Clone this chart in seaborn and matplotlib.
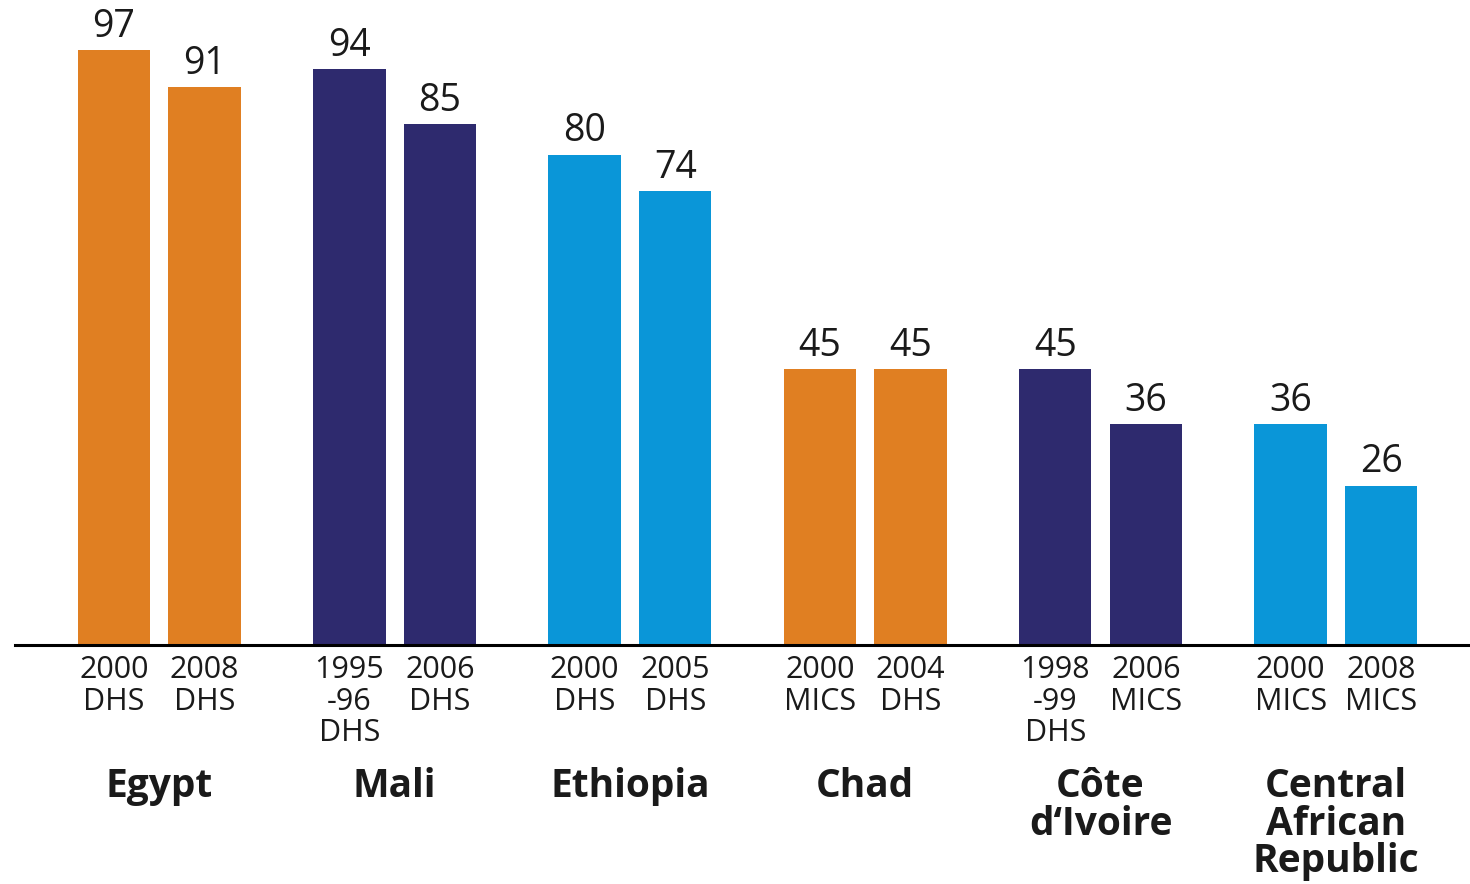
import numpy as np
import pandas as pd
import matplotlib.pyplot as plt
import seaborn as sns

# data
countries = ["Egypt", "Mali", "Ethiopia", "Chad", "Côte\nd‘Ivoire", "Central\nAfrican\nRepublic"]
first_values = [97, 94, 80, 45, 45, 36]
second_values = [91, 85, 74, 45, 36, 26]
first_surveys = ["2000\nDHS", "1995\n-96\nDHS", "2000\nDHS", "2000\nMICS", "1998\n-99\nDHS", "2000\nMICS"]
second_surveys = ["2008\nDHS", "2006\nDHS", "2005\nDHS", "2004\nDHS", "2006\nMICS", "2008\nMICS"]
country_colors = ["#E07F22", "#2E2A6E", "#0A96D8", "#E07F22", "#2E2A6E", "#0A96D8"]

df = pd.DataFrame({
    "country": countries * 2,
    "round": ["first"] * 6 + ["second"] * 6,
    "value": first_values + second_values,
})

sns.set_style("white")
plt.rcParams['font.family'] = ['Open Sans', 'DejaVu Sans']

fig = plt.figure(figsize=(14.7, 8.84), dpi=100)
ax = fig.add_axes([15 / 1470, 1 - 645 / 884, 1 - 15 / 1470, (645 - 32) / 884])

sns.barplot(data=df, x="country", y="value", hue="round", order=countries,
            width=0.77, gap=0.2, saturation=1, legend=False, ax=ax)

# colour bars by country
for p in ax.patches:
    cx = p.get_x() + p.get_width() / 2
    p.set_facecolor(country_colors[int(round(cx))])
    p.set_edgecolor("none")

for c in ax.containers:
    ax.bar_label(c, fontsize=27, padding=3, color="#1a1a1a")

ax.set_ylim(0, 100)
ax.set_xlim(-0.613, 5.57)
ax.set_yticks([])
ax.set_xlabel("")
ax.set_ylabel("")

# survey labels under each bar
centers = sorted(p.get_x() + p.get_width() / 2 for p in ax.patches)
sub_labels = []
for a, b in zip(first_surveys, second_surveys):
    sub_labels += [a, b]
ax.set_xticks(centers, minor=True)
ax.set_xticklabels(sub_labels, minor=True, fontsize=22, linespacing=1.08, color="#1a1a1a")

ax.set_xticks(range(len(countries)))
ax.set_xticklabels(countries, fontsize=28, fontweight="bold", linespacing=0.95, color="#1a1a1a")
ax.tick_params(axis="x", which="minor", length=0, pad=7)
ax.tick_params(axis="x", which="major", length=0, pad=88)

for s in ["top", "left", "right"]:
    ax.spines[s].set_visible(False)
ax.spines["bottom"].set_color("black")
ax.spines["bottom"].set_linewidth(2.2)

fig.savefig("out.png", dpi=100)
